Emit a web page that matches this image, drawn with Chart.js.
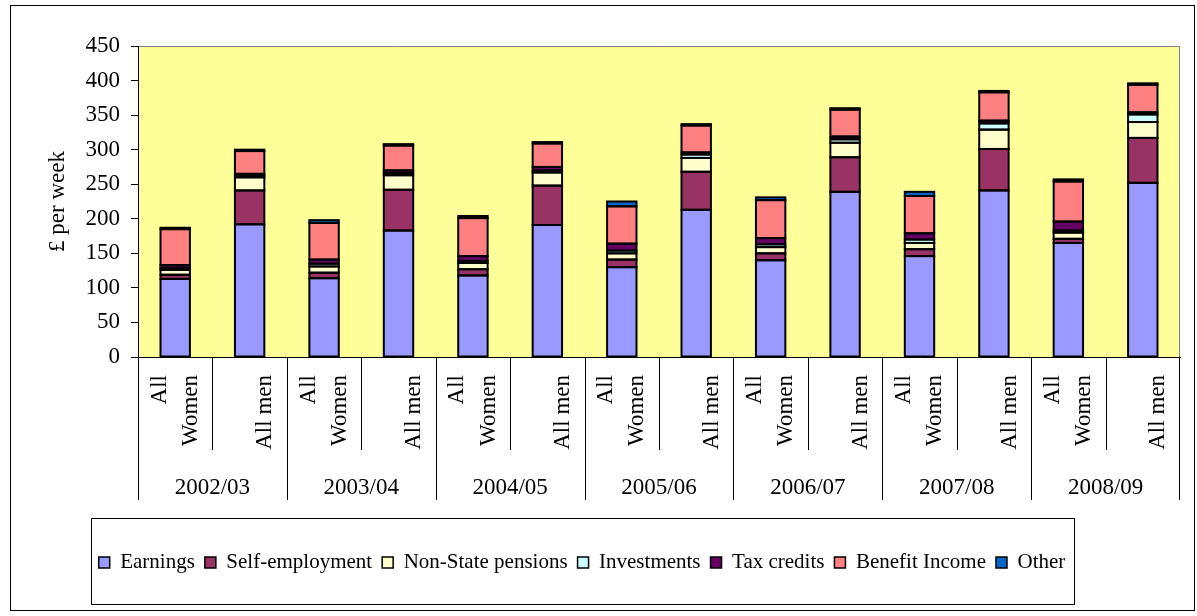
<!DOCTYPE html>
<html>
<head>
<meta charset="utf-8">
<script src="https://cdn.jsdelivr.net/npm/chart.js@4.4.1/dist/chart.umd.min.js"></script>
<style>
  html, body { margin: 0; padding: 0; background: #fff; }
  #wrap { width: 1197px; height: 616px; }
</style>
</head>
<body>
<div id="wrap"><canvas id="c" width="1197" height="616"></canvas></div>
<script>
// ---- data ----
const categories = ['All Women', 'All men', 'All Women', 'All men', 'All Women', 'All men',
                    'All Women', 'All men', 'All Women', 'All men', 'All Women', 'All men',
                    'All Women', 'All men'];
const years = ['2002/03', '2003/04', '2004/05', '2005/06', '2006/07', '2007/08', '2008/09'];
const yTicks = [0, 50, 100, 150, 200, 250, 300, 350, 400, 450];

const earnings       = [113, 192, 114, 183, 118, 191, 130, 213, 140, 239, 146, 241, 165, 252];
const selfEmployment = [  6,  49,   8,  59,   9,  57,  11,  55,  10,  50,  10,  60,   6,  65];
const nonStatePens   = [  7,  19,   9,  21,   9,  19,   9,  20,   9,  21,   9,  28,   9,  23];
const investments    = [  3,   3,   4,   3,   3,   3,   4,   5,   4,   5,   5,   9,   3,  11];
const taxCredits     = [  4,   2,   6,   4,   7,   5,  10,   3,   9,   4,   9,   4,  13,   3];
const benefitIncome  = [ 52,  33,  53,  36,  55,  34,  54,  39,  55,  39,  54,  41,  58,  40];
const other          = [  2,   2,   4,   2,   3,   2,   7,   2,   4,   2,   6,   2,   3,   2];

const seriesNames  = ['Earnings', 'Self-employment', 'Non-State pensions', 'Investments',
                      'Tax credits', 'Benefit Income', 'Other'];
const seriesValues = [earnings, selfEmployment, nonStatePens, investments, taxCredits, benefitIncome, other];
const seriesColors = ['#9999FF', '#993366', '#FFFFCC', '#CCFFFF', '#660066', '#FF8080', '#0066CC'];

// ---- styling ----
const SERIF = "'Liberation Serif', 'Times New Roman', Times, serif";
Chart.defaults.font.family = SERIF;
Chart.defaults.color = '#000';

const TICK_LH = 1.35;
const TICK_SIZE = 23;

const decor = {
  id: 'decor',
  beforeDraw(chart) {
    const {ctx, chartArea: a} = chart;
    ctx.save();
    ctx.fillStyle = '#fff';
    ctx.fillRect(0, 0, chart.width, chart.height);
    ctx.fillStyle = '#FFFF99';
    ctx.fillRect(a.left, a.top, a.right - a.left, a.bottom - a.top);
    ctx.strokeStyle = '#808080';
    ctx.lineWidth = 1;
    ctx.beginPath();
    ctx.moveTo(a.left, a.top + 0.5);
    ctx.lineTo(a.right - 0.5, a.top + 0.5);
    ctx.lineTo(a.right - 0.5, a.bottom);
    ctx.stroke();
    ctx.strokeStyle = '#000';
    ctx.strokeRect(10.5, 5.5, chart.width - 13, chart.height - 11);
    ctx.restore();
  },
  afterDatasetsDraw(chart) {
    // Excel-style outline centred on every segment edge
    const ctx = chart.ctx;
    ctx.save();
    ctx.strokeStyle = '#000';
    ctx.lineWidth = 2;
    chart.data.datasets.forEach((ds, i) => {
      const meta = chart.getDatasetMeta(i);
      meta.data.forEach(el => {
        const p = el.getProps(['x', 'y', 'base', 'width'], true);
        const top = Math.min(p.y, p.base);
        ctx.strokeRect(p.x - p.width / 2, top, p.width, Math.abs(p.base - p.y));
      });
    });
    ctx.restore();
  },
  afterDraw(chart) {
    const {ctx, chartArea: a} = chart;
    const x = chart.scales.x, x2 = chart.scales.x2;
    ctx.save();
    ctx.strokeStyle = '#000';
    ctx.lineWidth = 1;
    ctx.beginPath();
    const n = x.ticks.length;
    for (let i = 0; i <= n; i++) {
      let px;
      if (i === 0) px = a.left;
      else if (i === n) px = a.right - 1;
      else px = (x.getPixelForTick(i - 1) + x.getPixelForTick(i)) / 2;
      const bottom = (i % 2 === 0) ? x2.top + 43 : x.top + 93;
      const xx = Math.round(px) + 0.5;
      ctx.moveTo(xx, a.bottom);
      ctx.lineTo(xx, bottom);
    }
    ctx.stroke();
    // legend frame
    const hb = chart.legend.legendHitBoxes;
    if (hb && hb.length) {
      const l = Math.min(...hb.map(h => h.left)) - 8;
      const r = Math.max(...hb.map(h => h.left + h.width)) + 8;
      const t = hb[0].top - 34;
      const b = hb[0].top + hb[0].height + 31;
      ctx.strokeRect(Math.round(l) + 0.5, Math.round(t) + 0.5, Math.round(r - l), Math.round(b - t));
    }
    ctx.restore();
  }
};

const noSidePadding = (s) => { s.paddingLeft = 0; s.paddingRight = 0; };

new Chart(document.getElementById('c'), {
  type: 'bar',
  data: {
    labels: categories,
    datasets: seriesNames.map((name, k) => ({
      label: name,
      data: seriesValues[k],
      backgroundColor: seriesColors[k],
      borderColor: '#000',
      borderWidth: 0,
      categoryPercentage: 1,
      barPercentage: 0.395
    }))
  },
  options: {
    responsive: false,
    devicePixelRatio: 1,
    animation: false,
    layout: { padding: { left: -16, right: 17, top: 46, bottom: 33 } },
    plugins: {
      tooltip: { enabled: false },
      legend: {
        position: 'bottom',
        labels: {
          font: { size: 21, family: SERIF },
          color: '#000',
          boxWidth: 11,
          boxHeight: 11,
          padding: 10,
          generateLabels: (chart) =>
            Chart.defaults.plugins.legend.labels.generateLabels(chart).map(it =>
              Object.assign(it, { lineWidth: 1.5, strokeStyle: '#000' }))
        }
      }
    },
    scales: {
      x: {
        stacked: true,
        position: 'bottom',
        grid: { display: false },
        border: { display: true, color: '#000', width: 1 },
        ticks: {
          autoSkip: false,
          minRotation: 90,
          maxRotation: 90,
          padding: 10,
          labelOffset: -TICK_SIZE * TICK_LH / 2,
          font: { size: TICK_SIZE, lineHeight: TICK_LH },
          color: '#000',
          callback: function (v) {
            const s = this.getLabelForValue(v);
            const parts = s.split(' ');
            return parts.length === 2 && parts[1] === 'Women' ? [parts[0], parts[1]] : ['', s];
          }
        },
        afterFit: (s) => { s.height = 100; noSidePadding(s); }
      },
      x2: {
        type: 'category',
        labels: years,
        position: 'bottom',
        offset: true,
        grid: { display: false },
        border: { display: false },
        ticks: {
          autoSkip: false,
          maxRotation: 0,
          minRotation: 0,
          padding: 9,
          font: { size: TICK_SIZE },
          color: '#000'
        },
        afterFit: (s) => { s.height = 85; noSidePadding(s); }
      },
      y: {
        stacked: true,
        min: 0,
        max: 450,
        afterBuildTicks: (s) => { s.ticks = yTicks.map(v => ({ value: v })); },
        grid: { drawOnChartArea: false, drawTicks: true, tickLength: 7, color: '#000' },
        border: { display: true, color: '#000', width: 1 },
        ticks: { padding: 11, font: { size: TICK_SIZE }, color: '#000' },
        title: {
          display: true,
          text: '£ per week',
          font: { size: TICK_SIZE },
          color: '#000',
          padding: { top: 60, bottom: 0 }
        },
        afterFit: (s) => { s.width = 154; }
      }
    }
  },
  plugins: [decor]
});
</script>
</body>
</html>
